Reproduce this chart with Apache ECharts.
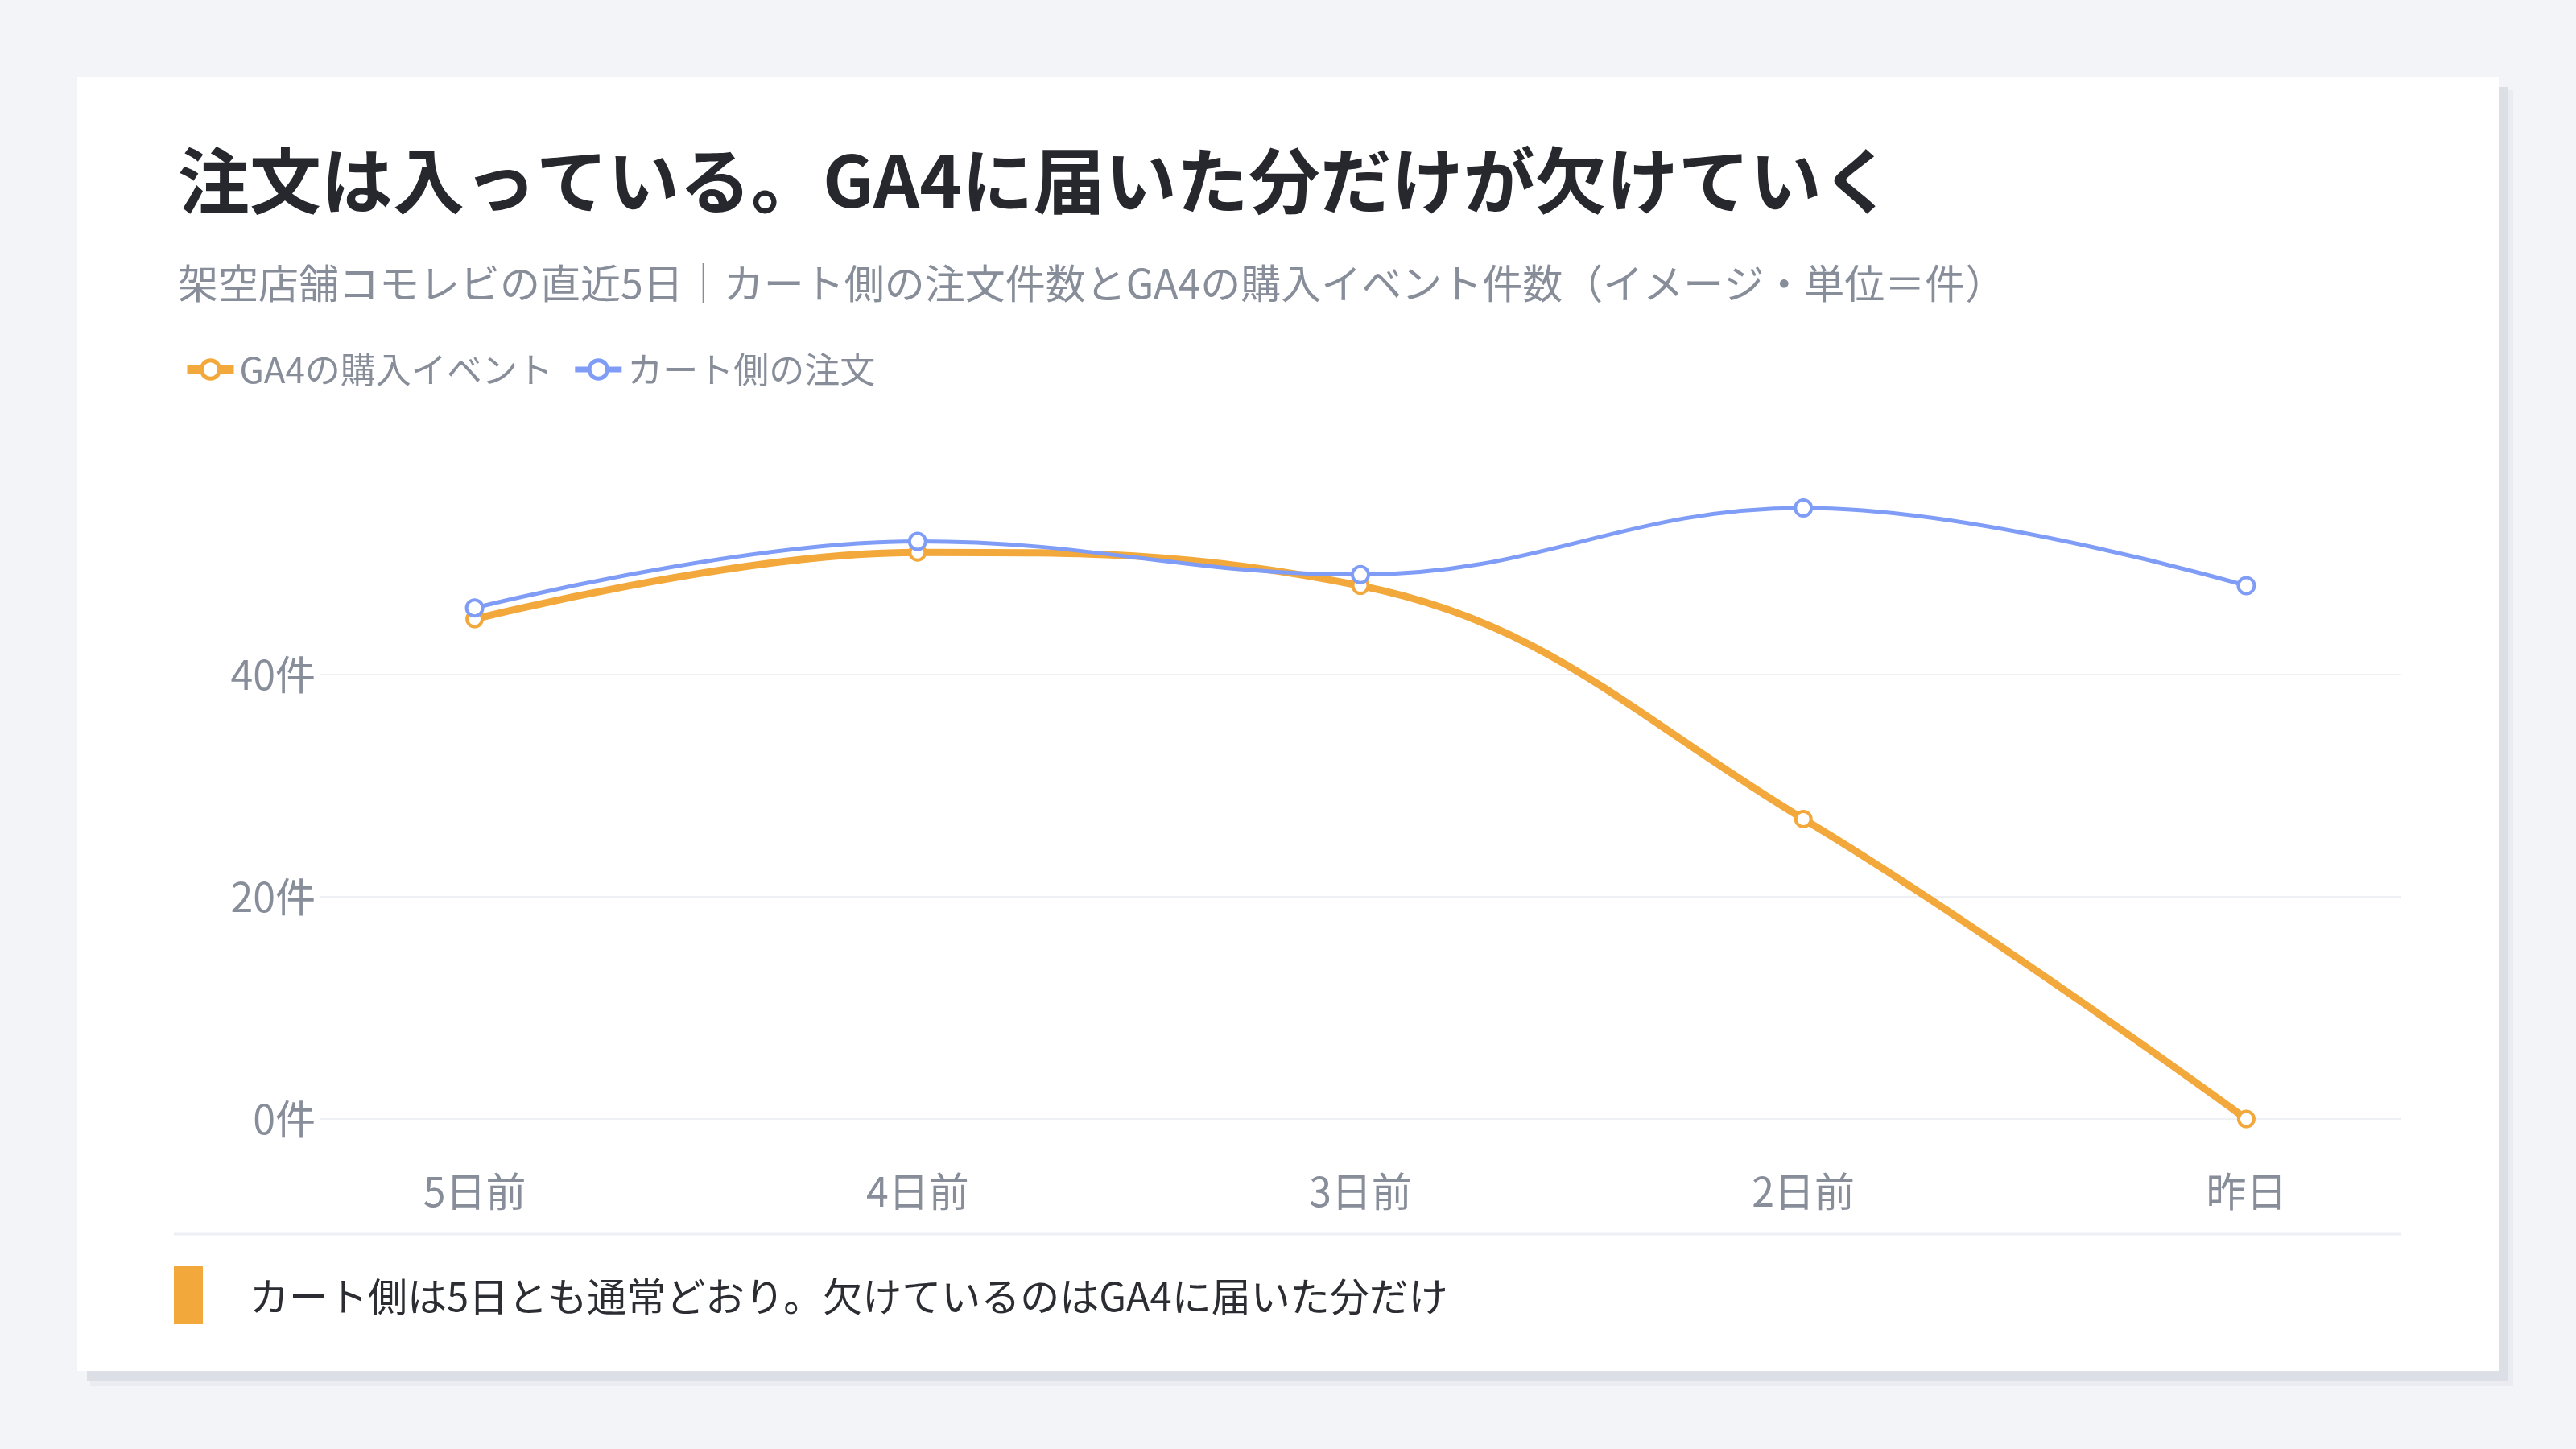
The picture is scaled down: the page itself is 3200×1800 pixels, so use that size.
<!DOCTYPE html>
<html lang="ja">
<head>
<meta charset="utf-8">
<title>GA4 購入イベントの欠損</title>
<script src="https://cdn.jsdelivr.net/npm/echarts@6/dist/echarts.min.js"></script>
<style>
  html, body { margin: 0; padding: 0; background: #f3f4f8; }
  #chart { width: 3200px; height: 1800px; }
</style>
</head>
<body>
<div id="chart"></div>
<script>
// データ（単位：件）
var categories = ['5日前', '4日前', '3日前', '2日前', '昨日'];
var ga4Purchases = [45, 51, 48, 27, 0];
var cartOrders = [46, 52, 49, 55, 48];
var yTicks = [0, 20, 40, 60];

var FONT = '"Noto Sans CJK JP", "Noto Sans", sans-serif';
var ORANGE = '#f2a83b';
var BLUE = '#7f9cf6';
var GRAY = '#878d99';

var chart = echarts.init(document.getElementById('chart'), null, { renderer: 'canvas' });

function toPoints(values) {
    return values.map(function (v, i) { return [i, v]; });
}

var option = {
    backgroundColor: '#f3f4f8',
    textStyle: { fontFamily: FONT },
    graphic: [
        // カードの影とカード本体
        { type: 'rect', z: -10, shape: { x: 112, y: 112, width: 3010, height: 1610 }, style: { fill: '#eaecf1' } },
        { type: 'rect', z: -9, shape: { x: 108, y: 108, width: 3008, height: 1607 }, style: { fill: '#dcdfe6' } },
        { type: 'rect', z: -8, shape: { x: 96, y: 96, width: 3008, height: 1607 }, style: { fill: '#ffffff' } },
        // 区切り線と注記
        { type: 'line', shape: { x1: 216, y1: 1533, x2: 2983, y2: 1533 }, style: { stroke: '#eceff3', lineWidth: 3 } },
        { type: 'rect', shape: { x: 216, y: 1573, width: 36, height: 72 }, style: { fill: ORANGE } },
        {
            type: 'text', x: 310, y: 1610,
            style: {
                text: 'カート側は5日とも通常どおり。欠けているのはGA4に届いた分だけ',
                font: '49px ' + FONT, fill: '#2b2d33', verticalAlign: 'middle'
            }
        }
    ],
    title: [
        {
            text: '注文は入っている。GA4に届いた分だけが欠けていく',
            left: 216, top: 175,
            textStyle: { fontFamily: FONT, fontSize: 89, fontWeight: 'bold', color: '#26282e' }
        },
        {
            text: '架空店舗コモレビの直近5日｜カート側の注文件数とGA4の購入イベント件数（イメージ・単位＝件）',
            left: 216, top: 322,
            textStyle: { fontFamily: FONT, fontSize: 50, fontWeight: 'normal', color: GRAY }
        }
    ],
    legend: {
        left: 222, top: 432,
        itemWidth: 58, itemHeight: 28, itemGap: 24,
        textStyle: { fontFamily: FONT, fontSize: 44, color: GRAY, padding: [0, 0, 0, 2] },
        data: [
            { name: 'GA4の購入イベント', lineStyle: { width: 11 }, itemStyle: { borderWidth: 5 } },
            { name: 'カート側の注文', lineStyle: { width: 7 }, itemStyle: { borderWidth: 5 } }
        ]
    },
    grid: { left: 397, right: 217, top: 562, bottom: 410, containLabel: false },
    xAxis: {
        type: 'value',
        min: -0.35, max: 4.35,
        axisLine: { show: false },
        axisTick: { show: false },
        splitLine: { show: false },
        axisLabel: {
            customValues: [0, 1, 2, 3, 4],
            formatter: function (v) { return categories[Math.round(v)]; },
            margin: 65, fontSize: 50, color: GRAY, fontFamily: FONT
        }
    },
    yAxis: {
        type: 'value',
        min: yTicks[0], max: yTicks[yTicks.length - 1], interval: 20,
        axisLine: { show: false },
        axisTick: { show: false },
        axisLabel: {
            formatter: '{value}件', showMaxLabel: false,
            margin: 5, fontSize: 50, color: GRAY, fontFamily: FONT
        },
        splitLine: { showMaxLine: false, lineStyle: { color: '#eef0f4', width: 2 } }
    },
    series: [
        {
            name: 'GA4の購入イベント',
            type: 'line',
            data: toPoints(ga4Purchases),
            smooth: 0.4,
            symbol: 'circle', symbolSize: 19,
            lineStyle: { color: ORANGE, width: 9 },
            itemStyle: { color: '#ffffff', borderColor: ORANGE, borderWidth: 4 }
        },
        {
            name: 'カート側の注文',
            type: 'line',
            data: toPoints(cartOrders),
            smooth: 0.4,
            symbol: 'circle', symbolSize: 20,
            lineStyle: { color: BLUE, width: 5 },
            itemStyle: { color: '#ffffff', borderColor: BLUE, borderWidth: 4 }
        }
    ]
};

chart.setOption(option);
</script>
</body>
</html>
